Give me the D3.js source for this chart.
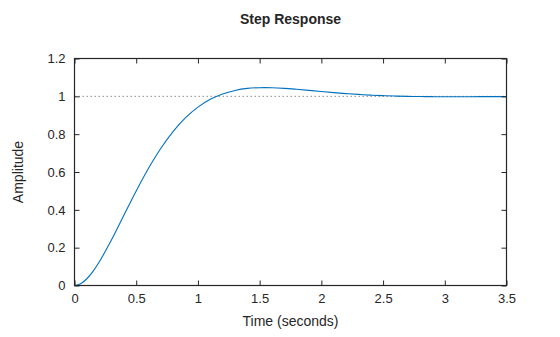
<!DOCTYPE html>
<html><head><meta charset="utf-8">
<script src="https://cdn.jsdelivr.net/npm/d3@7"></script>
<style>body{margin:0;background:#fff}svg{display:block}text{font-family:"Liberation Sans",Arial,Helvetica,sans-serif;fill:#262626}</style>
</head><body>
<svg id="c" width="560" height="337"></svg>
<script>
const title = "Step Response";
const xLabel = "Time (seconds)";
const yLabel = "Amplitude";
const timeValues = [0,0.05,0.1,0.15,0.2,0.3,0.4,0.5,0.6,0.7,0.8,0.9,1.0,1.1,1.2,1.3,1.4,1.5,1.6,1.7,1.8,1.9,2.0,2.1,2.2,2.3,2.4,2.5,2.6,2.7,2.8,2.9,3.0,3.1,3.2,3.3,3.4,3.5];
const amplitudeValues = [0,0.0096,0.0357,0.0748,0.1239,0.2416,0.3712,0.5000,0.6197,0.7255,0.8148,0.8870,0.9428,0.9842,1.0129,1.0313,1.0420,1.0457,1.0454,1.0422,1.0371,1.0313,1.0253,1.0196,1.0145,1.0101,1.0064,1.0036,1.0014,0.9999,0.9988,0.9982,0.9979,0.9979,0.9980,0.9982,0.9984,0.9987];
const xTicks = [0,0.5,1,1.5,2,2.5,3,3.5];
const yTicks = [0,0.2,0.4,0.6,0.8,1,1.2];
const steadyState = [1];

const svg = d3.select("#c");
const L=74.5, R=506.5, T=58.5, B=285.5;
const x = d3.scaleLinear().domain([0,3.5]).range([L,R]);
const y = d3.scaleLinear().domain([0,1.2]).range([B,T]);
const fmt = d => String(d);
const ink = "#262626";

// steady-state dotted line
svg.selectAll("line.ss").data(steadyState).enter().append("line")
  .attr("x1",L).attr("x2",R).attr("y1",d=>y(d)).attr("y2",d=>y(d))
  .attr("stroke","#8c8c8c").attr("stroke-width",1).attr("stroke-dasharray","1.5,2.5");

// curve
const pts = timeValues.map((t,i)=>[t,amplitudeValues[i]]);
svg.append("path").datum(pts)
  .attr("d", d3.line().x(d=>x(d[0])).y(d=>y(d[1])).curve(d3.curveCatmullRom))
  .attr("fill","none").attr("stroke","#0072BD").attr("stroke-width",1.1);

// axes
const tl = 5;
function styleAxis(g){
  g.select(".domain").remove();
  g.selectAll(".tick line").attr("stroke",ink).attr("stroke-width",1);
  g.selectAll(".tick text").style("font-size","13px").attr("fill",ink);
}
svg.append("g").attr("transform",`translate(0,${B})`)
  .call(d3.axisBottom(x).tickValues(xTicks).tickFormat(fmt).tickSizeInner(-tl).tickSizeOuter(0).tickPadding(8))
  .call(styleAxis);
svg.append("g").attr("transform",`translate(0,${T})`)
  .call(d3.axisTop(x).tickValues(xTicks).tickFormat("").tickSizeInner(-tl).tickSizeOuter(0))
  .call(styleAxis);
svg.append("g").attr("transform",`translate(${L},0)`)
  .call(d3.axisLeft(y).tickValues(yTicks).tickFormat(fmt).tickSizeInner(-tl).tickSizeOuter(0).tickPadding(9))
  .call(styleAxis);
svg.append("g").attr("transform",`translate(${R},0)`)
  .call(d3.axisRight(y).tickValues(yTicks).tickFormat("").tickSizeInner(-tl).tickSizeOuter(0))
  .call(styleAxis);

// box
svg.append("rect").attr("x",L).attr("y",T).attr("width",R-L).attr("height",B-T)
  .attr("fill","none").attr("stroke",ink).attr("stroke-width",1.2);

// labels
svg.append("text").attr("x",(L+R)/2).attr("y",24).attr("text-anchor","middle")
  .style("font-size","14px").style("font-weight","bold").text(title);
svg.append("text").attr("x",(L+R)/2).attr("y",326).attr("text-anchor","middle")
  .style("font-size","14px").text(xLabel);
svg.append("text").attr("transform",`translate(23,${(T+B)/2}) rotate(-90)`).attr("text-anchor","middle")
  .style("font-size","14px").text(yLabel);
</script>
</body></html>
